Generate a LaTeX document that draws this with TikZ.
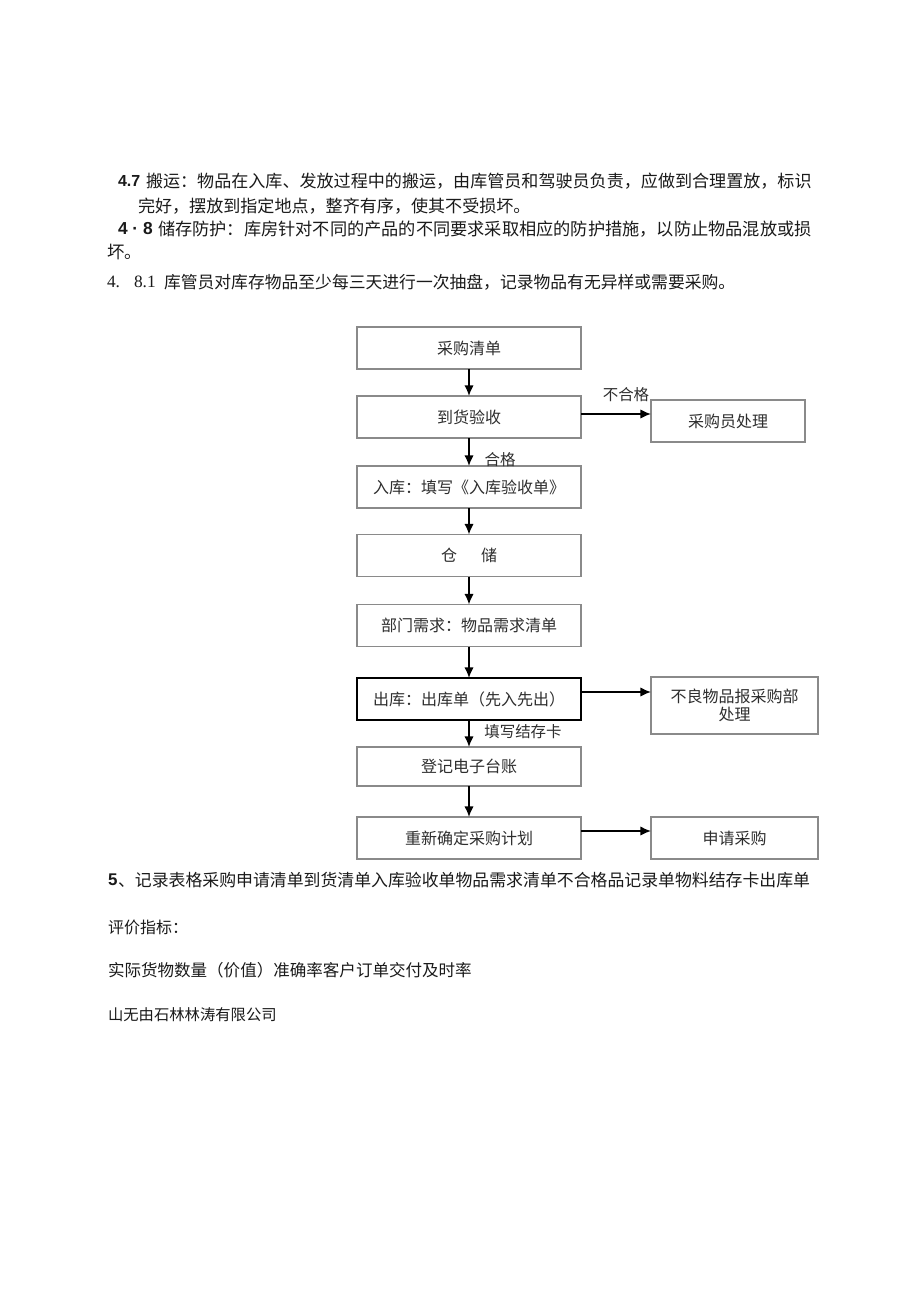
\documentclass[tikz,border=0pt]{standalone}
\usepackage{fontspec}
\setmainfont{Liberation Serif}
\newfontfamily\cjk{Noto Sans CJK SC}
\newfontfamily\arialf{Liberation Sans}
\usetikzlibrary{arrows.meta}
\definecolor{bordergray}{HTML}{8A8A8A}
\definecolor{boxtext}{HTML}{2E2E2E}
\definecolor{bodytext}{HTML}{1A1A1A}
\newcommand{\fs}[1]{\fontsize{#1}{#1}\selectfont}
\begin{document}
\begin{tikzpicture}[x=0.75pt,y=-0.75pt,
  txt/.style={inner sep=0pt, outer sep=0pt, anchor=west, text=bodytext},
  flowbox/.style={draw=bordergray, line width=0.8pt, inner sep=0pt, outer sep=0pt,
    minimum width=168pt, minimum height=31.5pt, text=boxtext, font=\cjk\fs{12pt}, align=center},
  sidebox/.style={flowbox, minimum width=125.25pt},
  arr/.style={line width=1.1pt, draw=black, -{Latex[length=8pt,width=7pt]}},
  lbl/.style={inner sep=0pt, text=boxtext, font=\cjk\fs{11.6pt}}]
\useasboundingbox (0,0) rectangle (920,1301);
\fill[white] (0,0) rectangle (920,1301);

% ---- top paragraphs ----
\node[txt, font=\arialf\bfseries\fs{12pt}] (l1a) at (118,181) {4.7};
\node[txt, font=\cjk\fs{12.8pt}] (l1b) at (146,181) {搬运：物品在入库、发放过程中的搬运，由库管员和驾驶员负责，应做到合理置放，标识};
\node[txt, font=\cjk\fs{12.8pt}] (l2) at (138,206) {完好，摆放到指定地点，整齐有序，使其不受损坏。};
\node[txt, font=\arialf\bfseries\fs{13pt}] (l3a) at (118,229) {4 · 8};
\node[txt, font=\cjk\fs{12.9pt}] (l3b) at (158,229) {储存防护：库房针对不同的产品的不同要求采取相应的防护措施，以防止物品混放或损};
\node[txt, font=\cjk\fs{13pt}] (l4) at (107,252) {坏。};
\node[txt, font=\rmfamily\fs{13pt}] (l5a) at (107,282) {4.};
\node[txt, font=\rmfamily\fs{13pt}] (l5b) at (134,282) {8.1};
\node[txt, font=\cjk\fs{12.6pt}] (l5c) at (164,282) {库管员对库存物品至少每三天进行一次抽盘，记录物品有无异样或需要采购。};

% ---- flow chart ----
\node[flowbox] (b1) at (469,348) {采购清单};
\node[flowbox] (b2) at (469,417) {到货验收};
\node[sidebox, minimum width=115.5pt] (b3) at (728,421) {采购员处理};
\node[flowbox] (b4) at (469,487) {入库：填写《入库验收单》};
\node[flowbox] (b5) at (469,555.5) {仓\hspace{1.5em}储};
\node[flowbox] (b6) at (469,625.5) {部门需求：物品需求清单};
\node[flowbox, draw=black, line width=1.1pt] (b7) at (469,699) {出库：出库单（先入先出）};
\node[sidebox, minimum height=42.75pt] (b8) at (734.5,705.5) {不良物品报采购部\\[2pt]处理};
\node[flowbox, minimum height=29.25pt] (b9) at (469,766.5) {登记电子台账};
\node[flowbox] (b10) at (469,838) {重新确定采购计划};
\node[sidebox] (b11) at (734.5,838) {申请采购};

\draw[arr] (b1) -- (b2);
\draw[arr] (b2) -- (b4);
\draw[arr] (b4) -- (b5);
\draw[arr] (b5) -- (b6);
\draw[arr] (b6) -- (b7);
\draw[arr] (b7) -- (b9);
\draw[arr] (b9) -- (b10);
\draw[arr] ([yshift=2.25pt]b2.east) -- ([yshift=2.25pt]b2.east -| b3.west);
\draw[arr] ([yshift=5.25pt]b7.east) -- ([yshift=5.25pt]b7.east -| b8.west);
\draw[arr] ([yshift=5.25pt]b10.east) -- ([yshift=5.25pt]b10.east -| b11.west);

\node[lbl] (t1) at (626,395) {不合格};
\node[lbl] (t2) at (500,460) {合格};
\node[lbl] (t3) at (523,732) {填写结存卡};

% ---- bottom paragraphs ----
\node[txt, font=\arialf\bfseries\fs{12.7pt}] (l6a) at (108,880) {5};
\node[txt, font=\cjk\fs{12.66pt}] (l6b) at (118,880) {、记录表格采购申请清单到货清单入库验收单物品需求清单不合格品记录单物料结存卡出库单};
\node[txt, font=\cjk\fs{12pt}] (l7) at (108,927) {评价指标：};
\node[txt, font=\cjk\fs{12.4pt}] (l8) at (108,970) {实际货物数量（价值）准确率客户订单交付及时率};
\node[txt, font=\cjk\fs{11.5pt}] (l9) at (108,1015) {山无由石林林涛有限公司};
\end{tikzpicture}
\end{document}
